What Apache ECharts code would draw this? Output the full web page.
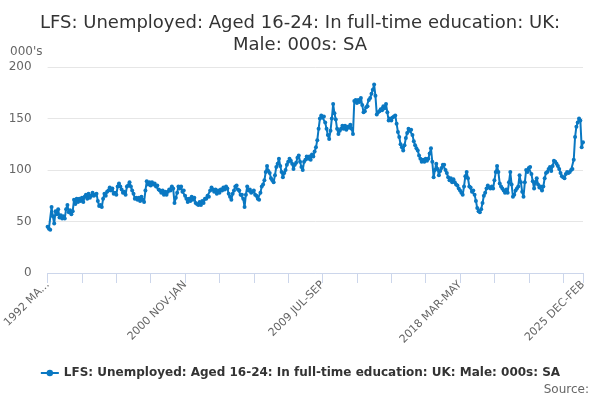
<!DOCTYPE html>
<html>
<head>
<meta charset="utf-8">
<script src="https://cdn.jsdelivr.net/npm/echarts@6/dist/echarts.min.js"></script>
<style>
  html, body { margin: 0; padding: 0; background: #fff; }
  #chart { width: 600px; height: 400px; }
</style>
</head>
<body>
<div id="chart"></div>
<script>
// monthly rolling quarters, 1992 MAR-MAY .. 2025 DEC-FEB
const quarterNames = ['JAN-MAR', 'FEB-APR', 'MAR-MAY', 'APR-JUN', 'MAY-JUL', 'JUN-AUG',
  'JUL-SEP', 'AUG-OCT', 'SEP-NOV', 'OCT-DEC', 'NOV-JAN', 'DEC-FEB'];

// values (thousands), one row per year starting 1992 MAR-MAY
const values = [
  45, 43, 42, 64, 55, 48, 60, 57, 62, 54, 56, 53,
  55, 53, 62, 66, 59, 61, 57, 60, 71, 67, 72, 69,
  72, 70, 73, 69, 74, 76, 72, 77, 73, 75, 78, 75,
  76, 77, 70, 65, 66, 64, 72, 77, 75, 79, 80, 83,
  80, 82, 77, 78, 76, 84, 87, 84, 81, 78, 79, 76,
  84, 85, 88, 84, 80, 77, 72, 73, 71, 73, 70, 74,
  71, 69, 80, 89, 86, 88, 85, 88, 86, 87, 84, 85,
  81, 80, 78, 80, 76, 79, 76, 79, 81, 80, 84, 82,
  68, 73, 78, 84, 82, 84, 79, 80, 75, 72, 69, 72,
  70, 74, 71, 73, 68, 67, 66, 69, 66, 70, 68, 72,
  72, 75, 74, 80, 83, 81, 79, 81, 77, 80, 78, 81,
  80, 83, 81, 84, 82, 77, 74, 71, 77, 80, 84, 85,
  81, 80, 76, 76, 72, 64, 76, 84, 80, 81, 78, 79,
  80, 76, 75, 72, 71, 78, 84, 86, 90, 98, 104, 99,
  97, 92, 90, 88, 95, 103, 106, 111, 104, 98, 93, 97,
  100, 105, 108, 111, 109, 106, 101, 105, 107, 112, 114, 108,
  103, 100, 108, 110, 113, 111, 113, 110, 115, 113, 118, 122,
  129, 140, 150, 153, 151, 152, 146, 140, 134, 130, 138, 150,
  164, 155, 149, 140, 135, 138, 140, 143, 140, 143, 139, 142,
  141, 144, 140, 135, 167, 168, 165, 168, 166, 170, 163, 156,
  157, 161, 162, 168, 170, 174, 178, 183, 172, 154, 156, 157,
  159, 158, 162, 160, 164, 156, 148, 150, 148, 151, 152, 153,
  145, 137, 132, 125, 122, 119, 124, 131, 136, 140, 138, 139,
  134, 128, 124, 121, 119, 114, 111, 108, 110, 108, 111, 109,
  111, 116, 121, 108, 93, 100, 106, 101, 95, 99, 102, 105,
  105, 100, 97, 93, 90, 92, 88, 91, 88, 86, 85, 82,
  80, 78, 76, 84, 94, 98, 92, 84, 83, 79, 80, 76,
  70, 63, 60, 59, 62, 68, 75, 78, 82, 85, 83, 82,
  84, 82, 90, 98, 104, 98, 87, 84, 82, 80, 78, 81,
  78, 88, 98, 86, 74, 76, 80, 82, 84, 95, 88, 79,
  74, 88, 100, 98, 102, 103, 96, 89, 82, 88, 92, 86,
  83, 84, 80, 84, 92, 97, 98, 101, 103, 99, 104, 109,
  108, 106, 104, 101, 97, 94, 93, 92, 96, 98, 97, 98,
  100, 101, 110, 132, 142, 146, 150, 148, 122, 127
];

const yTicks = [0, 50, 100, 150, 200];
const labelStep = 104;
const tickStep = 26;

const categories = values.map(function (v, i) {
  const m = 2 + i; // month offset from Jan 1992
  const year = 1992 + Math.floor(m / 12);
  return year + ' ' + quarterNames[m % 12];
});
const lastIndex = categories.length - 1;

const seriesName = 'LFS: Unemployed: Aged 16-24: In full-time education: UK: Male: 000s: SA';

const chart = echarts.init(document.getElementById('chart'));

const option = {
  backgroundColor: '#fff',
  animation: false,
  textStyle: { fontFamily: 'DejaVu Sans' },
  title: {
    text: 'LFS: Unemployed: Aged 16-24: In full-time education: UK:\nMale: 000s: SA',
    left: 'center',
    top: 7,
    textStyle: {
      fontSize: 18,
      fontWeight: 'normal',
      color: '#333',
      lineHeight: 22,
      fontFamily: 'DejaVu Sans'
    }
  },
  legend: {
    bottom: 16,
    left: 'center',
    itemWidth: 18,
    itemHeight: 8,
    textStyle: { fontSize: 12, fontWeight: 'bold', color: '#333' },
    data: [seriesName]
  },
  graphic: [
    {
      type: 'text',
      right: 11,
      bottom: 4,
      style: { text: 'Source:', fontSize: 12, fill: '#666', fontFamily: 'DejaVu Sans' }
    },
    {
      type: 'text',
      left: 10,
      top: 46,
      style: { text: "000's", fontSize: 12, fill: '#666', fontFamily: 'DejaVu Sans' }
    }
  ],
  grid: {
    left: 46,
    right: 17,
    top: 67,
    bottom: 127
  },
  xAxis: {
    type: 'category',
    data: categories,
    boundaryGap: false,
    axisLine: { lineStyle: { color: '#ccd6eb' } },
    axisTick: {
      length: 10,
      lineStyle: { color: '#ccd6eb' },
      interval: function (i) { return i % tickStep === 0 || i === lastIndex; }
    },
    axisLabel: {
      rotate: 45,
      color: '#666',
      fontSize: 11,
      margin: 10,
      interval: function (i) { return i % labelStep === 0 || i === lastIndex; },
      formatter: function (v, i) { return i === 0 ? '1992 MA...' : v; }
    }
  },
  yAxis: {
    type: 'value',
    min: yTicks[0],
    max: yTicks[yTicks.length - 1],
    interval: 50,
    axisLine: { show: false },
    axisTick: { show: false },
    axisLabel: { color: '#666', fontSize: 12, margin: 16 },
    splitLine: { lineStyle: { color: '#e6e6e6' } }
  },
  series: [{
    name: seriesName,
    type: 'line',
    data: values,
    symbol: 'circle',
    symbolSize: 4,
    showAllSymbol: true,
    itemStyle: { color: '#0a78c2' },
    lineStyle: { width: 2, color: '#0a78c2' }
  }]
};

chart.setOption(option);

window.addEventListener('resize', function () {
  chart.resize();
});
</script>
</body>
</html>
